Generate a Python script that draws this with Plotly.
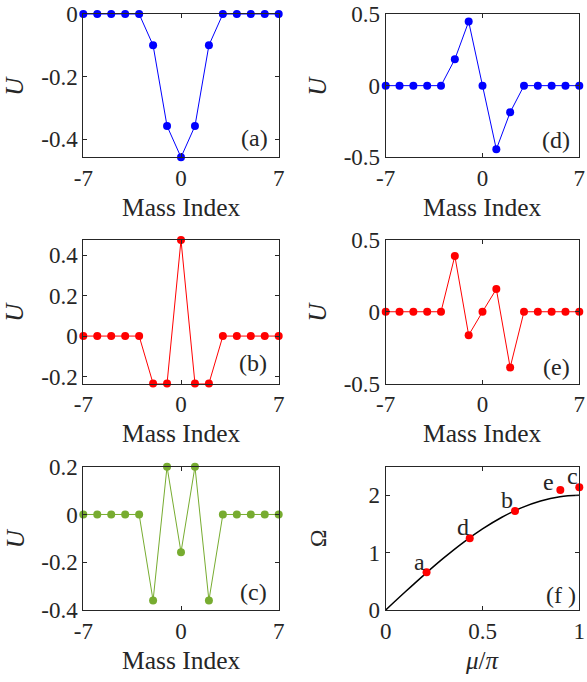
import plotly.graph_objects as go
from plotly.subplots import make_subplots

mass_index = list(range(-7, 8))
u_a = [0, 0, 0, 0, 0, -0.10, -0.358, -0.458, -0.358, -0.10, 0, 0, 0, 0, 0]
u_b = [0, 0, 0, 0, 0, -0.234, -0.234, 0.474, -0.234, -0.234, 0, 0, 0, 0, 0]
u_c = [0, 0, 0, 0, 0, -0.36, 0.20, -0.158, 0.20, -0.36, 0, 0, 0, 0, 0]
u_d = [0, 0, 0, 0, 0, 0.184, 0.447, 0, -0.444, -0.186, 0, 0, 0, 0, 0]
u_e = [0, 0, 0, 0, 0, 0.389, -0.163, 0, 0.158, -0.388, 0, 0, 0, 0, 0]

curve_mu = [0, 0.1, 0.2, 0.3, 0.4, 0.5, 0.6, 0.7, 0.8, 0.9, 1.0]
curve_omega = [0, 0.313, 0.618, 0.908, 1.176, 1.414, 1.618, 1.782, 1.902, 1.975, 2.0]
pts_label = ["a", "d", "b", "e", "c"]
pts_mu = [0.211, 0.434, 0.668, 0.902, 1.0]
pts_omega = [0.657, 1.25, 1.727, 2.093, 2.14]

BLUE = "#0000FF"
RED = "#FF0000"
GREEN = "#77AC30"
AX = "#262626"
FONT = "Liberation Serif, Times New Roman, serif"

fig = make_subplots(rows=3, cols=2)

def add_mode(row, col, ys, color):
    fig.add_trace(go.Scatter(x=mass_index, y=ys, mode="lines+markers",
                             line=dict(color=color, width=1),
                             marker=dict(color=color, size=8),
                             cliponaxis=False, showlegend=False), row=row, col=col)

add_mode(1, 1, u_a, BLUE)
add_mode(1, 2, u_d, BLUE)
add_mode(2, 1, u_b, RED)
add_mode(2, 2, u_e, RED)
add_mode(3, 1, u_c, GREEN)

fig.add_trace(go.Scatter(x=curve_mu, y=curve_omega, mode="lines", line=dict(color="black", width=1.5, shape="spline"),
                         showlegend=False), row=3, col=2)
fig.add_trace(go.Scatter(x=pts_mu, y=pts_omega, mode="markers", marker=dict(color=RED, size=8),
                         cliponaxis=False, showlegend=False), row=3, col=2)

W, H = 587, 682
colx = [(83.3, 278.7), (385.7, 579.3)]
rowy = [(14, 157.3), (240, 383.5), (466.7, 610)]

def px(x):
    return x / W

def py(y):
    return 1 - y / H

def xd(c):
    return [px(colx[c][0]), px(colx[c][1])]

def yd(r):
    return [py(rowy[r][1]), py(rowy[r][0])]

common = dict(showline=True, linecolor=AX, linewidth=1, mirror="ticks", ticks="inside",
              ticklen=4, tickcolor=AX, showgrid=False, zeroline=False, automargin=False,
              ticklabeloverflow="allow",
              tickfont=dict(family=FONT, size=23, color=AX))

yconf = {
    (0, 0): ([-0.458, 0], [0, -0.2, -0.4], ["0", "-0.2", "-0.4"]),
    (0, 1): ([-0.5, 0.5], [-0.5, 0, 0.5], ["-0.5", "0", "0.5"]),
    (1, 0): ([-0.234, 0.474], [-0.2, 0, 0.2, 0.4], ["-0.2", "0", "0.2", "0.4"]),
    (1, 1): ([-0.5, 0.5], [-0.5, 0, 0.5], ["-0.5", "0", "0.5"]),
    (2, 0): ([-0.4, 0.2], [-0.4, -0.2, 0, 0.2], ["-0.4", "-0.2", "0", "0.2"]),
    (2, 1): ([0, 2.5], [0, 1, 2], ["0", "1", "2"]),
}

for r in range(3):
    for c in range(2):
        yr, yt, ytt = yconf[(r, c)]
        if (r, c) == (2, 1):
            xr, xt, xtt = [0, 1], [0, 0.5, 1], ["0", "0.5", "1"]
        else:
            xr, xt, xtt = [-7, 7], [-7, 0, 7], ["-7", "0", "7"]
        fig.update_xaxes(domain=xd(c), range=xr, tickvals=xt, ticktext=xtt, row=r + 1, col=c + 1, **common)
        fig.update_yaxes(domain=yd(r), range=yr, tickvals=yt, ticktext=ytt, row=r + 1, col=c + 1, **common)

annotations = []

def ann(x, y, text, size=24, angle=0, xref="paper", yref="paper"):
    annotations.append(dict(x=x, y=y, xref=xref, yref=yref, text=text, showarrow=False,
                            textangle=angle, xanchor="center", yanchor="middle",
                            font=dict(family=FONT, size=size, color=AX)))

# x titles
for c in range(2):
    cx = px((colx[c][0] + colx[c][1]) / 2)
    for r in range(3):
        if (r, c) == (2, 1):
            ann(cx, py(660), "<i>μ</i>/<i>π</i>", size=25)
        else:
            ann(cx, py(rowy[r][1] + 50), "Mass Index", size=25.5)
# y titles
for c, xp in enumerate([15, 318]):
    for r in range(3):
        cy = py((rowy[r][0] + rowy[r][1]) / 2)
        if (r, c) == (2, 1):
            ann(px(xp), cy, "Ω", size=24, angle=-90)
        else:
            ann(px(xp), cy, "<i>U</i>", size=25, angle=-90)

# panel labels
for lab, lx, ly in [("(a)", 254, 138), ("(b)", 253.3, 363.3), ("(c)", 253.3, 591.7),
                    ("(d)", 556, 140), ("(e)", 556, 366.7), ("(f )", 560.7, 595)]:
    ann(px(lx), py(ly), lab, size=24)

# point labels in (f)
label_pos = {"a": (0.173, 0.84), "d": (0.40, 1.45), "b": (0.626, 1.92), "e": (0.84, 2.24), "c": (0.965, 2.33)}
for lab in pts_label:
    lx, ly = label_pos[lab]
    ann(lx, ly, lab, size=24, xref="x6", yref="y6")

fig.update_layout(width=W, height=H, margin=dict(l=0, r=0, t=0, b=0),
                  font=dict(family=FONT, color=AX), hovermode=False,
                  plot_bgcolor="white", paper_bgcolor="white", annotations=annotations)

fig.write_html("out.html", config={"displayModeBar": False},
               post_script="document.body.style.margin='0';")
